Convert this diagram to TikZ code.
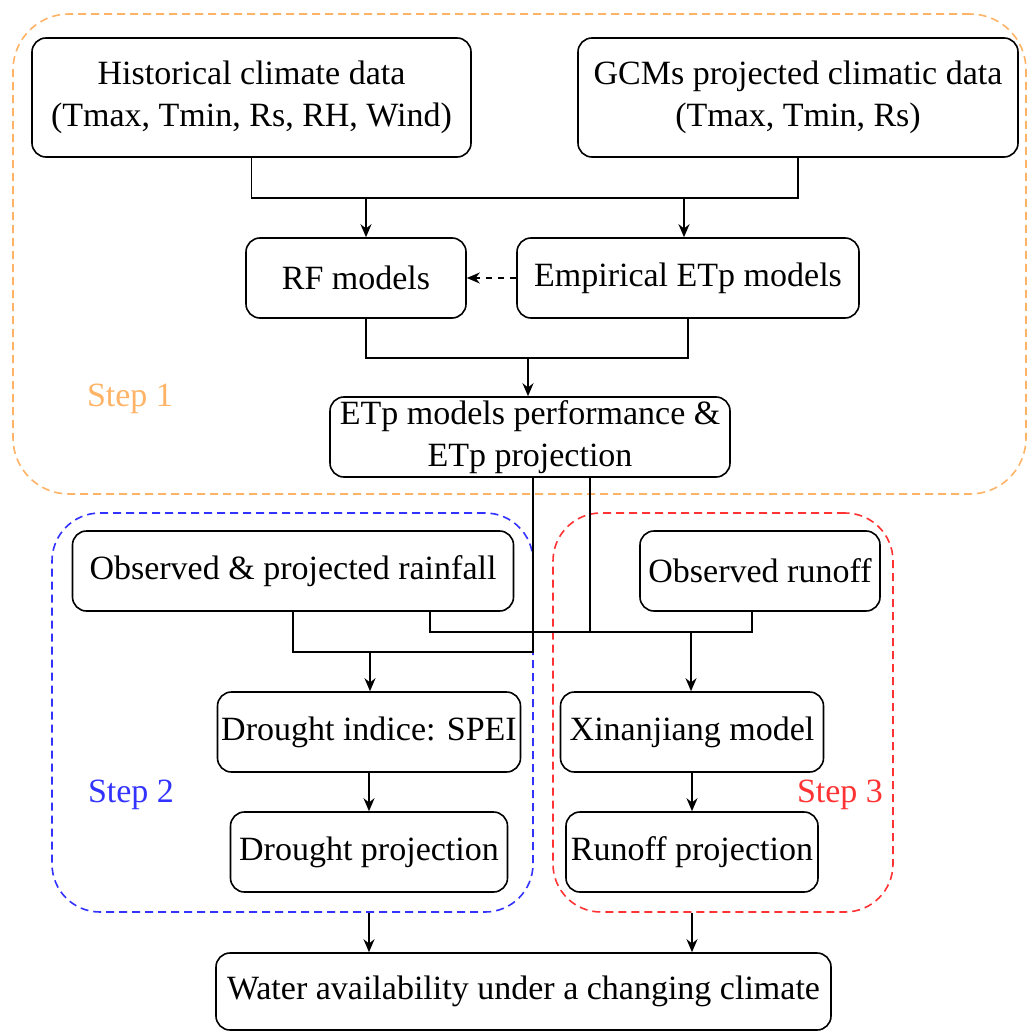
\documentclass[tikz,border=0pt]{standalone}
\usepackage{fontspec}
\setmainfont{Liberation Serif}
\usetikzlibrary{arrows.meta,calc}
\definecolor{stepone}{HTML}{FFB366}
\definecolor{steptwo}{HTML}{3333FF}
\definecolor{stepthree}{HTML}{FF3333}

\begin{document}
\begin{tikzpicture}[x=0.5pt, y=-0.5pt, >={Stealth[length=6.5pt,width=5.5pt]}, font=\fontsize{17}{21}\selectfont, box/.style={rectangle, draw, rounded corners=7pt, line width=0.8pt, align=center, inner sep=1pt, minimum height=40pt}, frame/.style={rectangle, draw, dash pattern=on 4pt off 2.5pt, line width=0.8pt, rounded corners=#1}, flow/.style={->, line width=0.8pt}, link/.style={line width=0.8pt}]
\useasboundingbox (0,0) rectangle (1028,1032);
\node[frame=28pt, draw=stepone, minimum width=506.5pt, minimum height=240pt] (s1) at (519.5,254) {};
\node[frame=24pt, draw=steptwo, minimum width=240.5pt, minimum height=199.5pt] (s2) at (292.5,712.5) {};
\node[frame=24pt, draw=stepthree, minimum width=170pt, minimum height=199.5pt] (s3) at (723,712.5) {};
\node[text=stepone] (lab1) at (130,399) {Step 1};
\node[text=steptwo] (lab2) at (131,795) {Step 2};
\node[text=stepthree] (lab3) at (840,795) {Step 3};
\node[box, minimum width=219.5pt, minimum height=59.5pt] (hist) at (251.5,97.5) {Historical climate data\\(Tmax, Tmin, Rs, RH, Wind)};
\node[box, minimum width=220pt, minimum height=59.5pt] (gcm) at (798,97.5) {GCMs projected climatic data\\(Tmax, Tmin, Rs)};
\node[box, minimum width=110pt] (rf) at (356,278) {RF models};
\node[box, minimum width=171pt] (emp) at (688,278) {Empirical ETp models};
\node[box, minimum width=200pt] (etp) at (530,437) {ETp models performance \&\\ETp projection};
\node[box, minimum width=220.5pt] (rain) at (293,571) {Observed \& projected rainfall};
\node[box, minimum width=120pt] (runoff) at (760,571) {Observed runoff};
\node[box, minimum width=151.5pt] (di) at (369,732) {Drought indice: SPEI};
\node[box, minimum width=131.5pt] (xin) at (692,732) {Xinanjiang model};
\node[box, minimum width=138.5pt] (dp) at (369,852) {Drought projection};
\node[box, minimum width=126pt] (rp) at (692,852) {Runoff projection};
\node[box, minimum width=307.5pt, minimum height=38.5pt] (water) at (523.5,991.5) {Water availability under a changing climate};
\coordinate (top1) at (366,198);
\coordinate (top2) at (684,198);
\coordinate (mid1) at (528,358);
\coordinate (low1) at (370,652);
\coordinate (low2) at (691,632);
\draw[flow] (hist.south) |- (top1) -- (top1 |- rf.north);
\draw[flow] (gcm.south) |- (top2) -- (top2 |- emp.north);
\draw[link] (hist.south) |- (top2);
\draw[link] (gcm.south) |- (top1);
\draw[flow, dashed] (emp) -- (rf);
\draw[flow] ($(rf.south)+(10,0)$) |- (mid1) -- (mid1 |- etp.north);
\draw[link] (emp.south) |- (mid1);
\draw[flow] ($(etp.south)+(3,0)$) |- (low1) -- (low1 |- di.north);
\draw[link] (rain.south) |- (low1);
\draw[flow] ($(etp.south)+(60,0)$) |- (low2) -- (low2 |- xin.north);
\draw[link] ($(rain.south)+(137,0)$) |- (low2);
\draw[link] ($(runoff.south)+(-8,0)$) |- (low2);
\draw[flow] (di.south) -- (di.south |- dp.north);
\draw[flow] (xin.south) -- (xin.south |- rp.north);
\draw[flow] (s2.south -| dp) -- (water.north -| dp);
\draw[flow] (s3.south -| rp) -- (water.north -| rp);
\end{tikzpicture}
\end{document}
